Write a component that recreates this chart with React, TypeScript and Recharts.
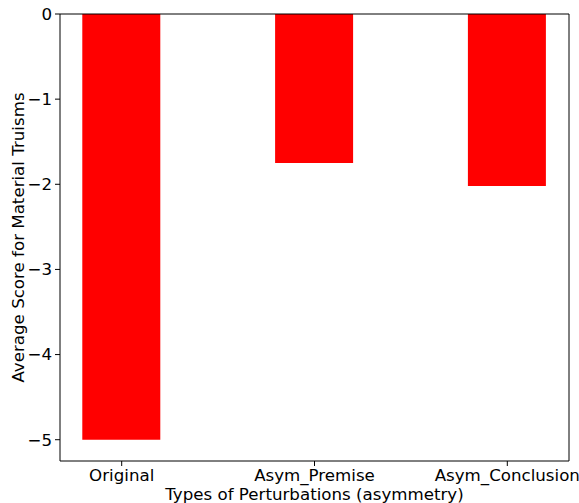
import { BarChart, Bar, XAxis, YAxis } from "recharts";

// categories and values
const categories = ["Original", "Asym_Premise", "Asym_Conclusion"];
const scores = [-5.0, -1.75, -2.02];
const yTicks = [0, -1, -2, -3, -4, -5];
const xTicks = [0, 1, 2];

const data = categories.map((name, i) => ({ idx: i, name, score: scores[i] }));

const FONT = "'DejaVu Sans', sans-serif";
const FS = 16.67;
const tickStyle = { fontSize: FS, fill: "#000", fontFamily: FONT };

const fmtY = (v: number) => (v < 0 ? `\u2212${Math.abs(v)}` : `${v}`);

export default function App() {
  return (
    <div style={{ position: "absolute", left: 0, top: 0, background: "#fff" }}>
      <BarChart
        width={579}
        height={503}
        data={data}
        margin={{ top: 13, right: 9, bottom: 0, left: 0 }}
      >
        <XAxis
          xAxisId="b"
          dataKey="idx"
          type="number"
          domain={[-0.32, 2.32]}
          ticks={xTicks}
          tickFormatter={(v) => categories[v] ?? ""}
          tick={tickStyle}
          tickSize={5}
          tickMargin={3}
          height={42}
          axisLine={{ stroke: "#000" }}
          tickLine={{ stroke: "#000" }}
          allowDataOverflow
          label={{
            value: "Types of Perturbations (asymmetry)",
            position: "insideBottom",
            offset: 3,
            style: { fontSize: FS, fill: "#000", fontFamily: FONT },
          }}
        />
        <XAxis
          xAxisId="t"
          orientation="top"
          dataKey="idx"
          type="number"
          domain={[-0.32, 2.32]}
          ticks={xTicks}
          height={1}
          tick={false}
          tickLine={false}
          axisLine={{ stroke: "#000" }}
          allowDataOverflow
        />
        <YAxis
          yAxisId="l"
          type="number"
          domain={[-5.25, 0]}
          ticks={yTicks}
          tickFormatter={fmtY}
          tick={tickStyle}
          tickSize={5}
          tickMargin={3}
          width={60}
          axisLine={{ stroke: "#000" }}
          tickLine={{ stroke: "#000" }}
          allowDataOverflow
          label={{
            value: "Average Score for Material Truisms",
            content: ({ viewBox }: any) => {
              const cy = viewBox.y + viewBox.height / 2;
              return (
                <text
                  x={18}
                  y={cy}
                  transform={`rotate(-90, 18, ${cy})`}
                  textAnchor="middle"
                  dominantBaseline="central"
                  style={{ fontSize: FS, fill: "#000", fontFamily: FONT }}
                >
                  Average Score for Material Truisms
                </text>
              );
            },
          }}
        />
        <YAxis
          yAxisId="r"
          orientation="right"
          type="number"
          domain={[-5.25, 0]}
          ticks={yTicks}
          width={1}
          tick={false}
          tickLine={false}
          axisLine={{ stroke: "#000" }}
          allowDataOverflow
        />
        <Bar
          xAxisId="b"
          yAxisId="l"
          dataKey="score"
          fill="#ff0000"
          barSize={78}
          isAnimationActive={false}
        />
      </BarChart>
    </div>
  );
}
